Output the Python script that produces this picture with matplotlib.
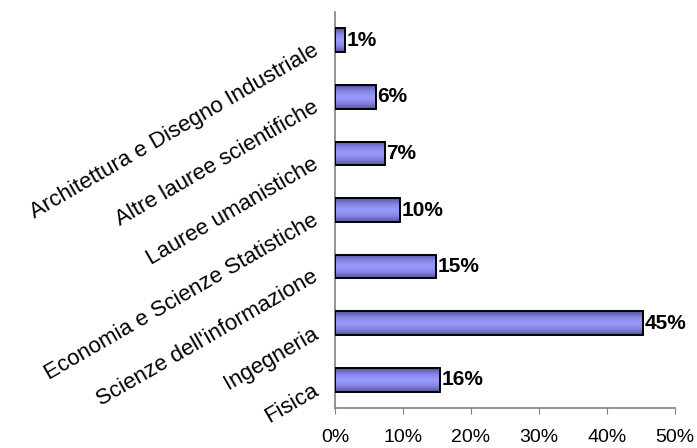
import numpy as np
import matplotlib.pyplot as plt
from matplotlib.colors import LinearSegmentedColormap

# Data (bottom to top)
categories = ['Fisica', 'Ingegneria', "Scienze dell'informazione",
              'Economia e Scienze Statistiche', 'Lauree umanistiche',
              'Altre lauree scientifiche', 'Architettura e Disegno Industriale']
values = [15.5, 45.3, 14.9, 9.6, 7.3, 6.0, 1.5]
value_labels = ['16%', '45%', '15%', '10%', '7%', '6%', '1%']
xticks = [0, 10, 20, 30, 40, 50]
xtick_labels = ['0%', '10%', '20%', '30%', '40%', '50%']

plt.rcParams['font.family'] = ['Liberation Sans', 'DejaVu Sans']

fig = plt.figure(figsize=(6.97, 4.48), dpi=100)
ax = fig.add_axes([335 / 697, 1 - 408 / 448, 340 / 697, 396 / 448])

y = np.arange(len(categories))
bars = ax.barh(y, values, height=0.42, facecolor='none', edgecolor='black',
               linewidth=1.4, zorder=3)

# Excel-like vertical gradient inside each bar
cmap = LinearSegmentedColormap.from_list(
    'grad', ['#55559f', '#8585e6', '#9c9cff', '#8585e6', '#55559f'])
grad = np.linspace(0, 1, 64).reshape(-1, 1)
for b in bars:
    x0, y0 = b.get_x(), b.get_y()
    w, h = b.get_width(), b.get_height()
    im = ax.imshow(grad, cmap=cmap, aspect='auto', extent=[x0, x0 + w, y0, y0 + h],
                   origin='lower', zorder=2.5, interpolation='bilinear')
    im.set_clip_path(b)

for yi, v, lab in zip(y, values, value_labels):
    ax.text(v + 0.25, yi, lab, va='center', ha='left', fontsize=15,
            fontweight='bold', color='black', zorder=4)

ax.set_xlim(0, 50)
ax.set_ylim(-0.5, len(categories) - 0.5)
ax.set_xticks(xticks)
ax.set_xticklabels(xtick_labels, fontsize=14)
ax.set_yticks(y)
ax.set_yticklabels(categories, fontsize=16, rotation=30, ha='right',
                   va='top', rotation_mode='anchor')

for s in ['top', 'right']:
    ax.spines[s].set_visible(False)
for s in ['left', 'bottom']:
    ax.spines[s].set_color('#808080')
    ax.spines[s].set_linewidth(1.2)

ax.tick_params(axis='x', direction='out', length=4, color='#808080', pad=11)
ax.tick_params(axis='y', length=0, pad=17)

fig.savefig('out.png', dpi=100)
